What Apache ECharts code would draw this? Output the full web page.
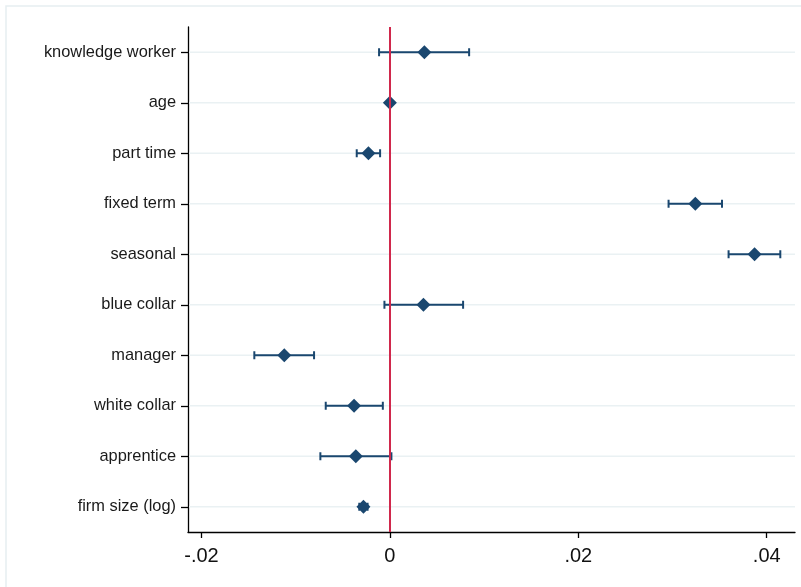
<!DOCTYPE html>
<html>
<head>
<meta charset="utf-8">
<script src="https://cdn.jsdelivr.net/npm/echarts@6/dist/echarts.min.js"></script>
<style>html,body{margin:0;padding:0;background:#fff;}#c{width:801px;height:587px;}</style>
</head>
<body>
<div id="c"></div>
<script>
var categories = ['knowledge worker','age','part time','fixed term','seasonal','blue collar','manager','white collar','apprentice','firm size (log)'];
var estimates = [0.00366, 0.0000, -0.00228, 0.03242, 0.03871, 0.00356, -0.01121, -0.0038, -0.00362, -0.00281];
var ciLow = [-0.00115, 0.0000, -0.00352, 0.02958, 0.03595, -0.00058, -0.01439, -0.00681, -0.00738, -0.00325];
var ciHigh = [0.00841, 0.0000, -0.00104, 0.03525, 0.04144, 0.00777, -0.00805, -0.00075, 0.00016, -0.00237];
var xTicks = [-0.02, 0, 0.02, 0.04];

var navy = '#1a476f';
var chart = echarts.init(document.getElementById('c'));
function fmt(v){ if (Math.abs(v) < 1e-12) return '0'; return (v<0?'-':'') + Math.abs(v).toFixed(2).replace(/^0/, ''); }

var barData = categories.map(function(c,i){ return [i, ciLow[i], ciHigh[i]]; });
var ptData = categories.map(function(c,i){ return [estimates[i], c]; });

chart.setOption({
  animation: false,
  graphic: [{type:'rect', shape:{x:6, y:6, width:820, height:620}, style:{fill:'none', stroke:'#e6eef1', lineWidth:1.5}, z:-10}],
  grid: {left:188, top:27, right:6, bottom:55, containLabel:false},
  xAxis: {
    type:'value', min:-0.02143, max:0.043,
    axisLine:{show:true, onZero:false, lineStyle:{color:'#000', width:1.3}},
    axisTick:{show:true, length:6, lineStyle:{color:'#000', width:1.3}, customValues: xTicks},
    axisLabel:{fontFamily:'Liberation Sans', fontSize:20, color:'#111', margin:14, customValues: xTicks, formatter: fmt},
    splitLine:{show:false}
  },
  yAxis: {
    type:'category', data: categories, inverse:true, boundaryGap:true,
    axisLine:{show:true, onZero:false, lineStyle:{color:'#000', width:1.3}},
    axisTick:{show:true, alignWithLabel:true, length:7, lineStyle:{color:'#000', width:1.3}},
    axisLabel:{fontFamily:'Liberation Sans', fontSize:16.4, color:'#1a1a1a', margin:12, padding:[0,0,-3,0]},
    splitLine:{show:false}
  },
  series: [
    {
      type:'custom', z:1, silent:true,
      data: barData,
      renderItem: function(params, api){
        var y = api.coord([0, api.value(0)])[1];
        var cs = params.coordSys;
        return {type:'line', shape:{x1:cs.x+1, y1:y, x2:cs.x+cs.width, y2:y}, style:{stroke:'#eaf1f3', lineWidth:1.5}};
      }
    },
    {
      type:'custom', z:2, silent:true,
      data: barData,
      encode:{x:[1,2], y:0},
      renderItem: function(params, api){
        var cat = api.value(0);
        var p1 = api.coord([api.value(1), cat]);
        var p2 = api.coord([api.value(2), cat]);
        var h = 4;
        var st = {stroke:navy, lineWidth:2};
        return {type:'group', children:[
          {type:'line', shape:{x1:p1[0], y1:p1[1], x2:p2[0], y2:p2[1]}, style:st},
          {type:'line', shape:{x1:p1[0], y1:p1[1]-h, x2:p1[0], y2:p1[1]+h}, style:st},
          {type:'line', shape:{x1:p2[0], y1:p2[1]-h, x2:p2[0], y2:p2[1]+h}, style:st}
        ]};
      },
      markLine: {
        silent:true, symbol:'none', label:{show:false},
        lineStyle:{color:'#d0284c', width:2, type:'solid'},
        data:[{xAxis:0}]
      }
    },
    {
      type:'scatter', z:3, silent:true,
      symbol:'diamond', symbolSize:[14,14],
      itemStyle:{color:navy, opacity:1},
      data: ptData
    }
  ]
});
</script>
</body>
</html>
